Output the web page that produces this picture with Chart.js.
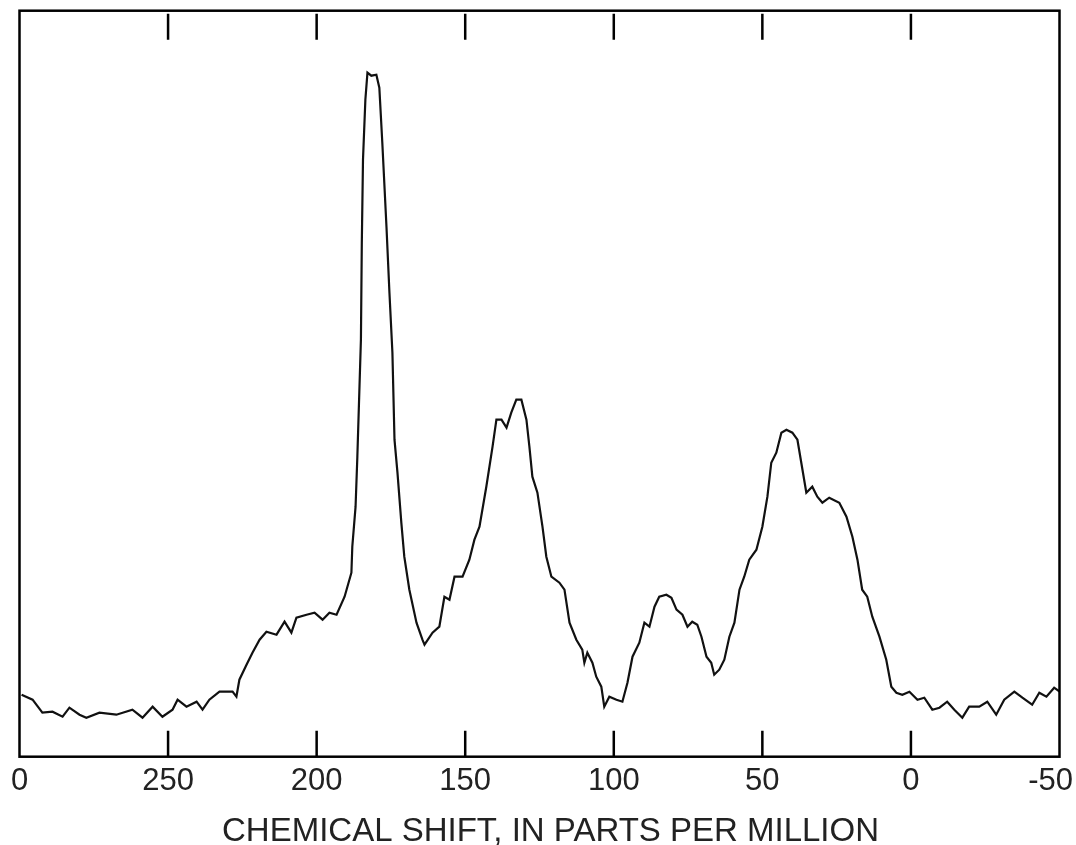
<!DOCTYPE html>
<html>
<head>
<meta charset="utf-8">
<script src="https://cdn.jsdelivr.net/npm/chart.js@4.4.0/dist/chart.umd.min.js"></script>
<style>
  html, body { margin: 0; padding: 0; background: #fff; }
  #wrap { width: 1076px; height: 845px; }
</style>
</head>
<body>
<div id="wrap"><canvas id="nmr" width="1076" height="845"></canvas></div>
<script>
// ---------- DATA ----------
// chemical shift, ppm (axis runs high -> low)
const ppm = [
  299.3, 295.6, 292.3, 288.9, 285.5, 283.2, 279.8, 277.5, 273.1, 267.4,
  262.0, 258.6, 255.2, 251.9, 248.5, 246.8, 243.8, 240.4, 238.4, 236.1,
  232.7, 228.3, 227.0, 226.0, 223.6, 221.6, 219.2, 216.9, 213.5, 210.8,
  208.5, 206.8, 203.4, 200.7, 198.0, 195.7, 193.3, 190.6, 188.3, 188.0,
  186.9, 186.3, 185.1, 184.8, 184.4, 183.6, 182.9, 181.6, 179.9, 178.9,
  177.9, 176.5, 175.5, 174.5, 173.8, 172.8, 171.5, 170.5, 168.8, 166.4,
  164.4, 163.7, 161.0, 158.7, 157.0, 155.3, 153.6, 150.9, 148.6, 146.9,
  145.2, 142.9, 140.8, 139.5, 137.8, 136.1, 134.5, 132.8, 131.1, 129.4,
  128.4, 127.4, 125.7, 124.0, 122.7, 121.0, 118.3, 116.6, 114.9, 112.6,
  110.6, 109.9, 108.9, 107.2, 105.9, 104.2, 103.2, 101.5, 99.1, 97.1,
  95.4, 93.7, 91.4, 89.7, 88.0, 86.3, 84.7, 82.3, 80.6, 78.9,
  76.9, 75.2, 73.6, 71.9, 70.5, 68.8, 67.2, 66.2, 64.5, 62.8,
  61.1, 59.4, 57.7, 56.1, 54.4, 52.0, 50.0, 48.3, 47.0, 45.3,
  43.6, 41.9, 39.9, 38.2, 36.5, 35.2, 33.2, 31.5, 29.8, 27.5,
  24.1, 21.7, 19.7, 18.0, 16.4, 14.7, 13.0, 10.6, 8.3, 6.6,
  4.9, 2.9, 0.5, -2.2, -4.5, -7.2, -9.6, -12.2, -14.6, -17.3,
  -19.6, -23.0, -25.7, -28.7, -31.4, -34.8, -37.5, -40.8, -43.2, -45.6,
  -48.2, -50.6
];
// signal intensity, arbitrary units
const intensity = [
  62, 57, 44, 45, 40, 49, 42, 39, 44, 42,
  47, 39, 50, 40, 47, 57, 50, 55, 47, 57,
  65, 65, 60, 77, 92, 104, 117, 125, 122, 135,
  124, 139, 142, 144, 137, 144, 142, 160, 184, 210,
  250, 300, 417, 514, 597, 657, 684, 681, 682, 669,
  614, 530, 464, 404, 317, 284, 234, 200, 167, 134,
  117, 112, 124, 130, 160, 157, 180, 180, 197, 217,
  230, 270, 310, 337, 337, 329, 344, 357, 357, 337,
  310, 280, 264, 230, 200, 180, 174, 167, 134, 117,
  107, 94, 104, 94, 80, 70, 50, 60, 57, 55,
  74, 100, 114, 134, 130, 150, 160, 162, 159, 147,
  142, 130, 135, 132, 120, 100, 94, 82, 87, 97,
  120, 134, 167, 180, 197, 207, 230, 260, 294, 304,
  324, 327, 324, 317, 287, 264, 270, 260, 254, 259,
  254, 240, 220, 197, 167, 160, 140, 120, 97, 70,
  64, 62, 65, 57, 59, 47, 49, 55, 47, 39,
  50, 50, 55, 42, 57, 65, 59, 52, 64, 60,
  69, 64
];

const tickValues = [300, 250, 200, 150, 100, 50, 0, -50];
// the left-most label is cut off in the source, only its last "0" shows
const tickLabels = ['0', '250', '200', '150', '100', '50', '0', '-50'];
const axisTitle = 'CHEMICAL SHIFT, IN PARTS PER MILLION';

const X_MAX = 300, X_MIN = -50;
const FONT = '"Liberation Sans", Arial, Helvetica, sans-serif';

// ---------- frame, inward ticks and labels ----------
const framePlugin = {
  id: 'frame',
  afterDraw(chart) {
    const { ctx, chartArea: a, scales: { x } } = chart;
    ctx.save();
    ctx.strokeStyle = '#000';
    ctx.lineWidth = 2.5;
    ctx.strokeRect(a.left, a.top, a.right - a.left, a.bottom - a.top);

    // tick marks point inward, on both top and bottom edges
    tickValues.forEach(v => {
      if (v === X_MAX || v === X_MIN) return;
      const px = x.getPixelForValue(v);
      ctx.beginPath();
      ctx.moveTo(px, a.top + 3); ctx.lineTo(px, a.top + 29);
      ctx.moveTo(px, a.bottom); ctx.lineTo(px, a.bottom - 26);
      ctx.stroke();
    });

    ctx.fillStyle = '#222';
    ctx.textAlign = 'center';
    ctx.textBaseline = 'alphabetic';
    ctx.font = '31px ' + FONT;
    tickValues.forEach((v, i) => {
      const txt = tickLabels[i];
      const w = ctx.measureText(txt).width;
      let px = x.getPixelForValue(v);
      px = Math.min(px, chart.width - 3 - w / 2);
      px = Math.max(px, 3 + w / 2);
      ctx.fillText(txt, px, a.bottom + 33);
    });

    ctx.font = '33px ' + FONT;
    ctx.fillText(axisTitle, (a.left + a.right) / 2 + 11, a.bottom + 84);
    ctx.restore();
  }
};

// ---------- chart ----------
const points = ppm.map((p, i) => ({ x: p, y: intensity[i] }));

new Chart(document.getElementById('nmr'), {
  type: 'line',
  data: {
    datasets: [{
      data: points,
      borderColor: '#111',
      borderWidth: 2.2,
      pointRadius: 0,
      tension: 0,
      fill: false
    }]
  },
  options: {
    responsive: false,
    animation: false,
    devicePixelRatio: 1,
    layout: { padding: { left: 19.5, right: 16.5, top: 10.7, bottom: 88.3 } },
    plugins: { legend: { display: false }, tooltip: { enabled: false } },
    scales: {
      x: {
        type: 'linear',
        reverse: true,
        min: X_MIN,
        max: X_MAX,
        ticks: { display: false, stepSize: 50 },
        grid: { display: false, drawTicks: false },
        border: { display: false }
      },
      y: {
        display: false,
        min: 0,
        max: 746
      }
    }
  },
  plugins: [framePlugin]
});
</script>
</body>
</html>
